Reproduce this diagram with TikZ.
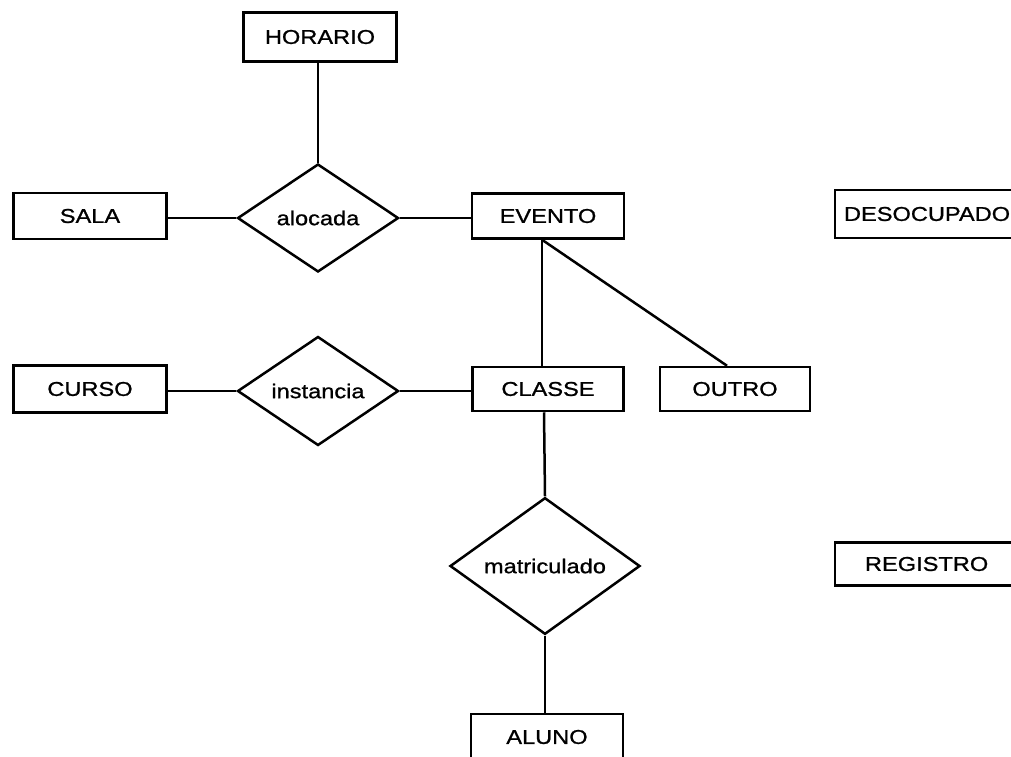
\documentclass[tikz,border=0pt]{standalone}
\usepackage{fontspec}
\setmainfont{Liberation Sans}[FakeStretch=1.18,FakeBold=1]
\usetikzlibrary{shapes.geometric}
\begin{document}
\begin{tikzpicture}[x=1pt,y=-1pt,
  every node/.style={font=\fontsize{20}{23}\selectfont, inner sep=0pt},
  entity/.style={draw, line width=2.5pt, rectangle, minimum width=#1},
  entity/.default=153pt,
  rel/.style={draw, line width=2.5pt, diamond, minimum width=#1},
  link/.style={line width=2.5pt}]
\useasboundingbox (0,0) rectangle (1011,756);
% entities
\node[entity, minimum height=49pt] (horario) at (320,37) {HORARIO};
\node[entity, minimum height=46pt] (sala) at (90,216) {SALA};
\node[entity=152pt, minimum height=45pt] (evento) at (548,216) {EVENTO};
\node[entity, minimum height=48pt] (desoc) at (933,214) {\makebox[196pt][l]{\hspace*{9pt}DESOCUPADO}};
\node[entity, minimum height=47pt] (curso) at (90,389) {CURSO};
\node[entity=151pt, minimum height=44pt] (classe) at (548,389) {CLASSE};
\node[entity=150pt, minimum height=44pt] (outro) at (735,389) {OUTRO};
\node[entity, minimum height=43pt] (registro) at (933,564) {\makebox[196pt][l]{\hspace*{30pt}REGISTRO}};
\node[entity=152pt, minimum height=46pt] (aluno) at (547,737) {ALUNO};
% relationships
\node[rel=161pt, minimum height=108pt] (alocada) at (318,218) {alocada};
\node[rel=161pt, minimum height=109pt] (instancia) at (318,391) {instancia};
\node[rel=190pt, minimum height=126pt] (matric) at (545,566) {matriculado};
% connectors
\draw[link] (horario.south -| alocada.north) -- (alocada.north);
\draw[link] (sala.east |- alocada.west) -- (alocada.west);
\draw[link] (alocada.east) -- (evento.west |- alocada.east);
\draw[link] (curso.east |- instancia.west) -- (instancia.west);
\draw[link] (instancia.east) -- (classe.west |- instancia.east);
\coordinate (evbot) at ([xshift=-6pt]evento.south);
\draw[link] (evbot) -- (evbot |- classe.north);
\draw[link] (evbot) -- ([xshift=-8pt]outro.north);
\draw[link] ([xshift=-4pt]classe.south) -- (matric.north);
\draw[link] (matric.south) -- (matric.south |- aluno.north);
\end{tikzpicture}
\end{document}
